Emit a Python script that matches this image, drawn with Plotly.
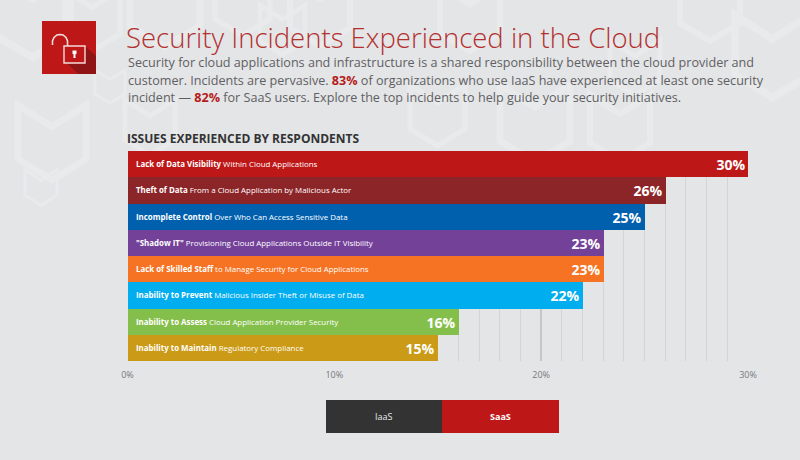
import plotly.graph_objects as go

W, H = 800, 460
FONT = "Open Sans"

lead_in = [
    "Lack of Data Visibility",
    "Theft of Data",
    "Incomplete Control",
    '"Shadow IT"',
    "Lack of Skilled Staff",
    "Inability to Prevent",
    "Inability to Assess",
    "Inability to Maintain",
]
remainder = [
    "Within Cloud Applications",
    "From a Cloud Application by Malicious Actor",
    "Over Who Can Access Sensitive Data",
    "Provisioning Cloud Applications Outside IT Visibility",
    "to Manage Security for Cloud Applications",
    "Malicious Insider Theft or Misuse of Data",
    "Cloud Application Provider Security",
    "Regulatory Compliance",
]
values = [30, 26, 25, 23, 23, 22, 16, 15]
colors = ["#be1717", "#8c2528", "#0060ae", "#744199", "#f57322", "#00adef", "#85bf4b", "#cb9a16"]
tick_vals = [0, 10, 20, 30]
tick_text = ["0%", "10%", "20%", "30%"]
intro_lines = [
    "Security for cloud applications and infrastructure is a shared responsibility between the cloud provider and",
    'customer. Incidents are pervasive. <b style="color:#b51c1c">83%</b> of organizations who use IaaS have experienced at least one security',
    'incident — <b style="color:#b51c1c">82%</b> for SaaS users. Explore the top incidents to help guide your security initiatives.',
]
# faint shield watermark behind the page: x, y, width
shields = [
    (-5, -25, 75), (65, -10, 55), (130, -30, 70), (215, -25, 55), (290, -20, 60), (410, 85, 55),
    (500, 85, 70), (590, 95, 60), (680, -25, 60), (735, 15, 75), (610, 40, 50),
    (18, 105, 68), (25, 170, 32), (95, 70, 30), (260, 5, 45), (440, -15, 60), (125, 100, 50),
]


def px(x):
    return x / W


def py(y):
    return 1 - y / H


def pixel_path(points, close=True):
    d = "M" + " L".join(f"{px(x):.4f},{py(y):.4f}" for x, y in points)
    return d + (" Z" if close else "")


def rect(x0, y0, x1, y1, fill, line=None, width=0):
    return dict(
        type="rect", xref="paper", yref="paper", layer="below",
        x0=px(x0), x1=px(x1), y0=py(y0), y1=py(y1),
        fillcolor=fill, line=dict(color=line or fill, width=width),
    )


def poly(points, fill=None, line=None, width=0, close=True):
    return dict(
        type="path", xref="paper", yref="paper", layer="below",
        path=pixel_path(points, close),
        fillcolor=fill or "rgba(0,0,0,0)",
        line=dict(color=line or "rgba(0,0,0,0)", width=width),
    )


def shield(x, y, w):
    pts = [(0, 0), (0.5, 0.32), (1, 0), (1, 0.8), (0.5, 1.1), (0, 0.8)]
    return poly([(x + a * w, y + b * w) for a, b in pts], line="#e9eaec", width=max(3, w * 0.1))


def text(x, y, s, size, color, anchor="left", weight=None):
    font = dict(family=FONT, size=size, color=color)
    if weight:
        font["weight"] = weight
    return dict(
        x=px(x), y=py(y), xref="paper", yref="paper", text=s, showarrow=False,
        xanchor=anchor, yanchor="middle", font=font, align="left",
        borderpad=0, borderwidth=0,
    )


shapes = [shield(*s) for s in shields]
# lock badge
shapes += [
    rect(42, 21, 96, 74, "#be1717"),
    poly([(64, 60), (86, 47), (96, 56), (96, 74), (78, 74)], fill="#8f1416"),
    rect(64, 46, 85, 63, "#be1717", "#f3dcdc", 1.4),
    poly([(52.5, 45), (52.5, 41), (54, 37.5), (57, 35), (60, 34.5), (63, 35), (66, 37.5), (67.5, 41), (67.5, 46)],
         line="#f3dcdc", width=1.6, close=False),
    rect(73.5, 52, 75.5, 58, "#ffffff"),
    rect(72.5, 50.5, 76.5, 54, "#ffffff"),
]
# series switch under the chart
shapes += [rect(326, 400, 442, 433, "#333333"), rect(442, 400, 559, 433, "#be1717")]

annotations = [
    text(126, 38, "Security Incidents Experienced in the Cloud", 27.5, "#b3302f", weight=300),
    text(127, 138, "<b>ISSUES EXPERIENCED BY RESPONDENTS</b>", 12, "#333333"),
    text(384, 416.5, "IaaS", 9, "#e8e8e8", "center"),
    text(500, 416.5, "<b>SaaS</b>", 9, "#ffffff", "center"),
]
for i, line in enumerate(intro_lines):
    annotations.append(text(127.5, 62.5 + i * 17.5, line, 12.6, "#5f6062"))
for lead, rest, y in zip(lead_in, remainder, range(len(values))):
    annotations.append(
        dict(
            x=0, y=y, xref="x", yref="y", xanchor="left", yanchor="middle", xshift=6, showarrow=False,
            text=f"<b>{lead}</b> {rest}", font=dict(family=FONT, size=7.9, color="#ffffff"),
        )
    )

fig = go.Figure(
    go.Bar(
        x=values,
        y=list(range(len(values))),
        orientation="h",
        marker=dict(color=colors, line=dict(width=0)),
        text=[f"{v}%" for v in values],
        textposition="inside",
        insidetextanchor="end",
        textangle=0,
        constraintext="none",
        textfont=dict(family=FONT, size=14, color="#ffffff", weight="bold"),
        hoverinfo="skip",
    )
)
fig.update_layout(
    width=W,
    height=H,
    autosize=False,
    margin=dict(l=0, r=0, t=0, b=0),
    paper_bgcolor="#e4e5e7",
    plot_bgcolor="rgba(0,0,0,0)",
    bargap=0,
    showlegend=False,
    shapes=shapes,
    annotations=annotations,
)
fig.update_xaxes(
    domain=[px(127.5), px(748)],
    range=[0, 30],
    automargin=False,
    tickvals=tick_vals,
    ticktext=tick_text,
    tickfont=dict(family=FONT, size=9, color="#77787a"),
    ticks="outside",
    ticklen=5,
    tickcolor="rgba(0,0,0,0)",
    showgrid=True,
    gridcolor="#c5c6c8",
    gridwidth=1.5,
    zeroline=False,
    showline=False,
    minor=dict(dtick=1, showgrid=True, gridcolor="#d3d4d6", gridwidth=1),
)
fig.update_yaxes(
    domain=[py(361), py(151)],
    range=[7.5, -0.5],
    automargin=False,
    showticklabels=False,
    showgrid=False,
    zeroline=False,
    ticks="",
)

fig.write_html("out.html", config=dict(displayModeBar=False), post_script="document.body.style.margin='0';")
